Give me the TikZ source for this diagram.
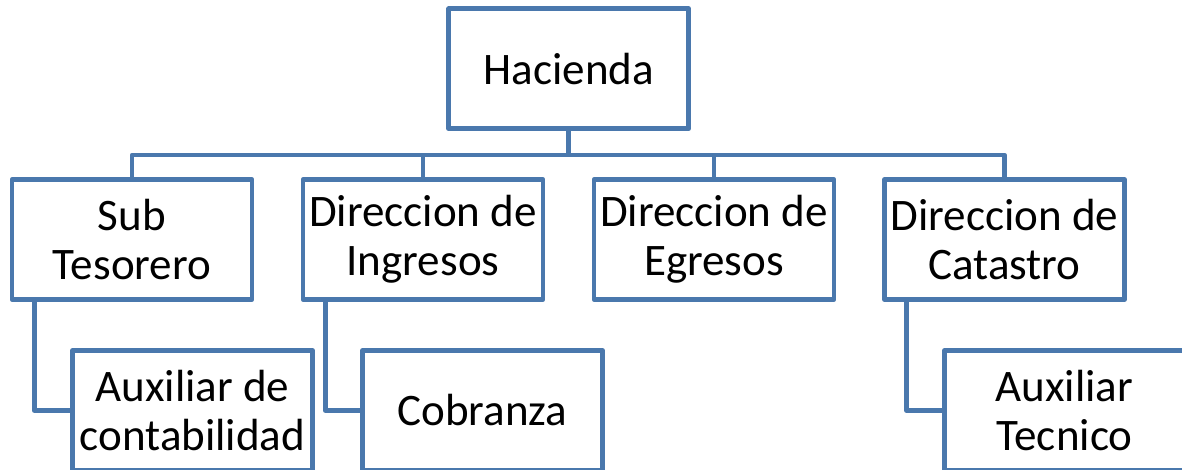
\documentclass[tikz,border=0pt]{standalone}
\usepackage{fontspec}
\setmainfont{Carlito}
\definecolor{boxblue}{RGB}{74,120,173}
\begin{document}
\begin{tikzpicture}[x=0.75pt,y=-0.75pt,
  orgbox/.style={draw=boxblue, line width=3.5pt, line join=round, fill=white,
    minimum width=180pt, minimum height=90pt, inner sep=0pt, align=center,
    font=\fontsize{33.8}{37}\selectfont},
  conn/.style={draw=boxblue, line width=3.5pt, line join=round}]
\useasboundingbox (0,0) rectangle (1182,470);
\clip (0,0) rectangle (1182,470);
\fill[white] (0,0) rectangle (1182,470);
% nodes
\node[orgbox] (hac) at (568.75,68.75) {Hacienda};
\node[orgbox] (sub) at (132,239.5) {Sub\\Tesorero};
\node[orgbox] (ing) at (423,239.5) {Direccion de\\Ingresos};
\node[orgbox] (egr) at (714,239.5) {Direccion de\\Egresos};
\node[orgbox] (cat) at (1004.5,239.5) {Direccion de\\Catastro};
\node[orgbox] (aux) at (192.5,410.5) {Auxiliar de\\contabilidad};
\node[orgbox] (cob) at (482.5,410.5) {Cobranza};
\node[orgbox] (tec) at (1064.5,410.5) {Auxiliar\\Tecnico};
% bar
\coordinate (bar) at (0,155);
\draw[conn] (sub.north) -- (sub.north |- bar) -- (cat.north |- bar) -- (cat.north);
\draw[conn] (hac.south) -- (hac.south |- bar);
\draw[conn] (ing.north) -- (ing.north |- bar);
\draw[conn] (egr.north) -- (egr.north |- bar);
% child connectors
\draw[conn] ([xshift=18.4pt]sub.south west) |- (aux.west);
\draw[conn] ([xshift=18.4pt]ing.south west) |- (cob.west);
\draw[conn] ([xshift=18.4pt]cat.south west) |- (tec.west);
\end{tikzpicture}
\end{document}
